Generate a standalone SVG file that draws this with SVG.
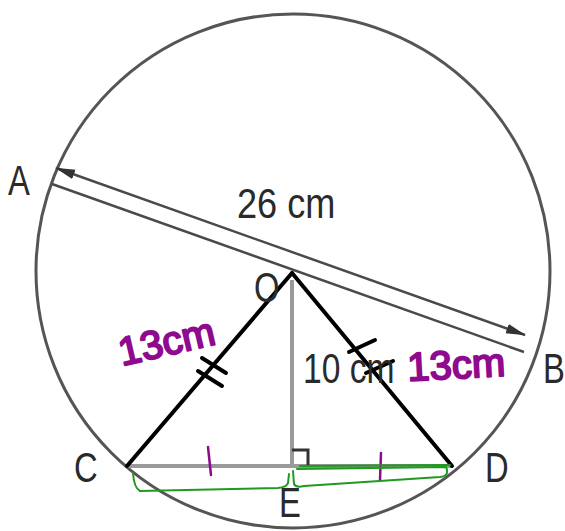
<svg xmlns="http://www.w3.org/2000/svg" width="565" height="531" viewBox="0 0 565 531">
<style>
.lbl{font-family:"Liberation Sans",Arial,sans-serif;font-size:42px;fill:#2a2a2a}
.hand{font-family:"Liberation Sans",Arial,sans-serif;font-size:40px;fill:#8e0a8e;stroke:#8e0a8e;stroke-width:2;stroke-linejoin:round}
.gray{stroke:#9a9a9a;stroke-width:4;fill:none}
.blk{stroke:#000;stroke-width:4;fill:none;stroke-linecap:round}
.green{stroke:#1f9a1f;stroke-width:2;fill:none;stroke-linecap:round;stroke-linejoin:round}
.ptick{stroke:#8e0a8e;stroke-width:2.5;fill:none;stroke-linecap:round}
</style>
<defs>
<marker id="ah2" markerWidth="20" markerHeight="12" refX="19" refY="6" orient="auto-start-reverse" markerUnits="userSpaceOnUse">
<path d="M0,1 L20,6 L0,11 Z" fill="#333"/>
</marker>
</defs>
<rect width="565" height="531" fill="#fff"/>
<g id="circle"><circle cx="293" cy="271" r="257" fill="none" stroke="#555" stroke-width="3"/></g>
<g id="connectors">
<line x1="56" y1="168" x2="525" y2="335" stroke="#4a4a4a" stroke-width="2.5" marker-start="url(#ah2)" marker-end="url(#ah2)"/>
<line x1="52" y1="184" x2="524" y2="352" stroke="#4a4a4a" stroke-width="2.5"/>
<line class="gray" x1="292" y1="280" x2="292" y2="466"/>
<line class="gray" x1="127" y1="466" x2="452" y2="466"/>
<path d="M292,450 H308 V466" stroke="#333" stroke-width="3" fill="none"/>
<line class="blk" x1="292" y1="273" x2="127" y2="466"/>
<line class="blk" x1="292" y1="273" x2="452" y2="466"/>
<line class="blk" x1="202" y1="358" x2="226" y2="373"/>
<line class="blk" x1="198" y1="371" x2="222" y2="386"/>
<line class="blk" x1="349" y1="352" x2="375" y2="340"/>
<line class="blk" x1="366" y1="373" x2="393" y2="361"/>
<line class="ptick" x1="208" y1="447" x2="211" y2="475"/>
<line class="ptick" x1="381" y1="453" x2="380" y2="480"/>
<path class="green" d="M133,473 Q134,488 140,491 L278,488 Q287,487 288,483 L289,474"/>
<path class="green" d="M293,471 L294,484 Q296,488 304,486 Q380,481 440,477 Q450,476 446,467 L297,469"/>
<path class="green" d="M300,466 L450,465"/>
</g>
<g id="A"><text class="lbl" transform="translate(8,195) scale(0.78,1)">A</text></g>
<g id="B"><text class="lbl" transform="translate(543,383) scale(0.78,1)">B</text></g>
<g id="C"><text class="lbl" transform="translate(74,482) scale(0.78,1)">C</text></g>
<g id="D"><text class="lbl" transform="translate(485,482) scale(0.78,1)">D</text></g>
<g id="E"><text class="lbl" transform="translate(279,517) scale(0.78,1)">E</text></g>
<g id="O"><text class="lbl" transform="translate(254,302) scale(0.78,1)">O</text></g>
<g id="len26"><text class="lbl" transform="translate(237,218) scale(0.86,1)">26 cm</text></g>
<g id="len10"><text class="lbl" transform="translate(303,383) scale(0.8,1)">10 cm</text></g>
<g id="hand13a"><text class="hand" transform="translate(122,366) rotate(-13)">13cm</text></g>
<g id="hand13b"><text class="hand" transform="translate(408,381) rotate(-3)">13cm</text></g>
</svg>
